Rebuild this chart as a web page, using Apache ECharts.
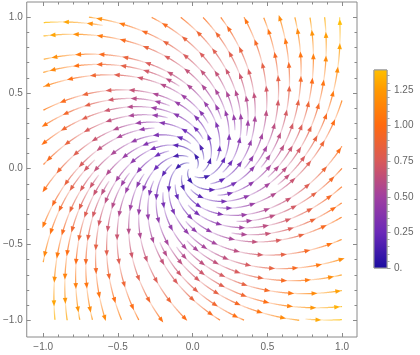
<!DOCTYPE html>
<html><head><meta charset="utf-8">
<script src="https://cdn.jsdelivr.net/npm/echarts@6/dist/echarts.min.js"></script>
<style>html,body{margin:0;padding:0;background:#fff}#c{width:420px;height:355px}</style>
</head><body><div id="c"></div>
<script>
// ---- data ----
const xTicks = [-1, -0.5, 0, 0.5, 1];
const xTickLabels = ['−1.0', '−0.5', '0.0', '0.5', '1.0'];
const yTicks = [-1, -0.5, 0, 0.5, 1];
const yTickLabels = ['−1.0', '−0.5', '0.0', '0.5', '1.0'];
const minorTicks = [-0.9, -0.8, -0.7, -0.6, -0.4, -0.3, -0.2, -0.1, 0.1, 0.2, 0.3, 0.4, 0.6, 0.7, 0.8, 0.9];
const colorTicks = [0, 0.25, 0.5, 0.75, 1, 1.25];
const colorTickLabels = ['0.', '0.25', '0.50', '0.75', '1.00', '1.25'];
const colorMinorTicks = [0.05, 0.1, 0.15, 0.2, 0.3, 0.35, 0.4, 0.45, 0.55, 0.6, 0.65, 0.7, 0.8, 0.85, 0.9, 0.95, 1.05, 1.1, 1.15, 1.2, 1.3, 1.35];
// vector field v = M · (x, y)
const fieldMatrix = [[0.67, -0.74], [0.74, 0.67]];
const fieldDomain = [-1, 1];
const magnitudeRange = [0, 1.39];
const colorStopValues = [0, 0.25, 0.5, 0.75, 1.0, 1.25, 1.39];
const colorStopColors = ['#1a0ca0', '#6a28b8', '#a040a0', '#d85a5a', '#ff6a10', '#ff9a00', '#ffc000'];

// ---- helpers ----
function hexToRgb(h) { return [parseInt(h.slice(1, 3), 16), parseInt(h.slice(3, 5), 16), parseInt(h.slice(5, 7), 16)]; }
const stopRgb = colorStopColors.map(hexToRgb);
function colorAt(m, a) {
  let i = 0;
  while (i < colorStopValues.length - 2 && m > colorStopValues[i + 1]) i++;
  const t = Math.max(0, Math.min(1, (m - colorStopValues[i]) / (colorStopValues[i + 1] - colorStopValues[i])));
  const c = stopRgb[i].map((v, k) => Math.round(v + (stopRgb[i + 1][k] - v) * t));
  return 'rgba(' + c[0] + ',' + c[1] + ',' + c[2] + ',' + a + ')';
}
function field(x, y) { return [fieldMatrix[0][0] * x + fieldMatrix[0][1] * y, fieldMatrix[1][0] * x + fieldMatrix[1][1] * y]; }
function mag(x, y) { const v = field(x, y); return Math.hypot(v[0], v[1]); }
function dir(x, y) { const v = field(x, y); const m = Math.hypot(v[0], v[1]); return m < 1e-9 ? null : [v[0] / m, v[1] / m]; }

// ---- evenly spaced streamlines ----
const D0 = fieldDomain[0], D1 = fieldDomain[1];
const dsep = 0.078, dtest = 0.5 * dsep, h = 0.004, minLen = 0.06;
const cells = new Map();
function ci(v) { return Math.floor((v - D0) / dsep); }
function addPt(x, y) { const k = ci(x) * 1000 + ci(y); if (!cells.has(k)) cells.set(k, []); cells.get(k).push([x, y]); }
function free(x, y, d) {
  const a = ci(x), b = ci(y);
  for (let i = a - 1; i <= a + 1; i++) for (let j = b - 1; j <= b + 1; j++) {
    const arr = cells.get(i * 1000 + j); if (!arr) continue;
    for (const p of arr) if ((p[0] - x) ** 2 + (p[1] - y) ** 2 < d * d) return false;
  }
  return true;
}
function inside(x, y) { return x >= D0 && x <= D1 && y >= D0 && y <= D1; }
function integrate(x0, y0, s) {
  const pts = []; let x = x0, y = y0;
  for (let n = 0; n < 3000; n++) {
    const d1 = dir(x, y); if (!d1) break;
    const d2 = dir(x + s * h / 2 * d1[0], y + s * h / 2 * d1[1]); if (!d2) break;
    const nx = x + s * h * d2[0], ny = y + s * h * d2[1];
    if (!inside(nx, ny) || Math.hypot(nx, ny) < 0.025 || !free(nx, ny, dtest)) break;
    pts.push([nx, ny]); x = nx; y = ny;
  }
  return pts;
}
function newLine(x, y) {
  if (!inside(x, y) || !free(x, y, dsep) || Math.hypot(x, y) < 0.05) return null;
  const f = integrate(x, y, 1), b = integrate(x, y, -1);
  const pts = b.reverse().concat([[x, y]], f);
  if (pts.length * h < minLen) return null;
  pts.forEach(p => addPt(p[0], p[1]));
  return pts;
}
const lines = [];
function grow(seedLine) {
  const queue = [seedLine];
  while (queue.length) {
    const L = queue.shift();
    for (let i = 0; i < L.length; i += 4) {
      const d = dir(L[i][0], L[i][1]); if (!d) continue;
      for (const s of [1, -1]) {
        const nl = newLine(L[i][0] - s * dsep * d[1], L[i][1] + s * dsep * d[0]);
        if (nl) { lines.push(nl); queue.push(nl); }
      }
    }
  }
}
for (let gx = 0; gx <= 20; gx++) for (let gy = 0; gy <= 20; gy++) {
  const x = 0.55 + gx * 0.1, y = 0.3 + gy * 0.1;
  const xx = ((x + 1) % 2) - 1, yy = ((y + 1) % 2) - 1;
  const l = newLine(xx, yy);
  if (l) { lines.push(l); grow(l); }
}

// ---- split streamlines into arrow pieces ----
const spacing = 0.158, gap = 0.012;
const pieces = [];
for (const L of lines) {
  let acc = 0; let cur = [L[0]]; let nextArrow = spacing * 0.55; let skipUntil = -1;
  for (let i = 1; i < L.length; i++) {
    acc += Math.hypot(L[i][0] - L[i - 1][0], L[i][1] - L[i - 1][1]);
    if (acc < skipUntil) continue;
    cur.push(L[i]);
    if (acc >= nextArrow) {
      if (cur.length > 1) pieces.push({ pts: cur, arrow: true });
      cur = []; skipUntil = acc + gap; nextArrow += spacing;
    }
  }
  if (cur.length > 3) pieces.push({ pts: cur, arrow: false });
}
const pieceData = pieces.map((p, i) => [p.pts[p.pts.length - 1][0], p.pts[p.pts.length - 1][1], i]);

// ---- chart ----
const chart = echarts.init(document.getElementById('c'), null, { renderer: 'canvas' });
const frameColor = '#8a8a8a', labelColor = '#666';
const font = { fontFamily: 'Liberation Sans', fontSize: 10, color: labelColor };
function lab(ticks, labels) { return v => { const i = ticks.findIndex(t => Math.abs(t - v) < 1e-6); return i >= 0 ? labels[i] : ''; }; }
function frameAxis(kind, pos, major, withLabels, ticks, labels) {
  return {
    type: 'value', gridIndex: 0, position: pos,
    min: -1.11, max: 1.10,
    axisLine: { show: false, onZero: false }, splitLine: { show: false },
    axisTick: { show: true, inside: true, length: major ? 4 : 2.5, customValues: major ? ticks : minorTicks, lineStyle: { color: frameColor, width: 1 } },
    axisLabel: withLabels ? Object.assign({ show: true, customValues: ticks, formatter: lab(ticks, labels), margin: kind === 'x' ? 5 : 4 }, font) : { show: false }
  };
}
const option = {
  animation: false,
  backgroundColor: '#fff',
  grid: [
    { left: 23, top: 2, width: 334, height: 335, show: true, borderColor: frameColor, borderWidth: 1, backgroundColor: 'transparent' },
    { left: 374, top: 70, width: 13, height: 198, show: true, borderColor: '#999', borderWidth: 1, backgroundColor: 'transparent' }
  ],
  xAxis: [
    frameAxis('x', 'bottom', true, true, xTicks, xTickLabels),
    frameAxis('x', 'bottom', false, false, xTicks, xTickLabels),
    frameAxis('x', 'top', true, false, xTicks, xTickLabels),
    frameAxis('x', 'top', false, false, xTicks, xTickLabels),
    { type: 'value', gridIndex: 1, min: 0, max: 1, show: false }
  ],
  yAxis: [
    frameAxis('y', 'left', true, true, yTicks, yTickLabels),
    frameAxis('y', 'left', false, false, yTicks, yTickLabels),
    frameAxis('y', 'right', true, false, yTicks, yTickLabels),
    frameAxis('y', 'right', false, false, yTicks, yTickLabels),
    {
      type: 'value', gridIndex: 1, position: 'right', min: magnitudeRange[0], max: magnitudeRange[1],
      axisLine: { show: false, onZero: false }, splitLine: { show: false },
      axisTick: { show: true, inside: false, length: 3.5, customValues: colorTicks, lineStyle: { color: '#999' } },
      axisLabel: Object.assign({ show: true, customValues: colorTicks, formatter: lab(colorTicks, colorTickLabels), margin: 7 }, font)
    },
    {
      type: 'value', gridIndex: 1, position: 'right', min: magnitudeRange[0], max: magnitudeRange[1],
      axisLine: { show: false, onZero: false }, splitLine: { show: false },
      axisTick: { show: true, inside: false, length: 2.5, customValues: colorMinorTicks, lineStyle: { color: '#aaa' } },
      axisLabel: { show: false }
    }
  ],
  series: [
    {
      type: 'custom', xAxisIndex: 0, yAxisIndex: 0, clip: false, silent: true,
      data: pieceData,
      renderItem: function (params, api) {
        const p = pieces[api.value(2)];
        const px = p.pts.map(q => api.coord(q));
        const a = px[0], b = px[px.length - 1];
        const s0 = p.pts[0], s1 = p.pts[p.pts.length - 1];
        const m0 = mag(s0[0], s0[1]), m1 = mag(s1[0], s1[1]);
        const grad = new echarts.graphic.LinearGradient(a[0], a[1], b[0], b[1], [
          { offset: 0, color: colorAt(m0, 0.2) }, { offset: 1, color: colorAt(m1, 0.85) }], true);
        const children = [{ type: 'polyline', shape: { points: px }, style: { stroke: grad, fill: null, lineWidth: 1.25 } }];
        if (p.arrow) {
          const d = dir(s1[0], s1[1]);
          const q = api.coord([s1[0] + d[0] * 0.01, s1[1] + d[1] * 0.01]);
          let ux = q[0] - b[0], uy = q[1] - b[1]; const n = Math.hypot(ux, uy) || 1; ux /= n; uy /= n;
          const tip = [b[0] + ux * 3, b[1] + uy * 3], base = [b[0] - ux * 3, b[1] - uy * 3];
          children.push({ type: 'polygon', shape: { points: [tip, [base[0] - uy * 2.3, base[1] + ux * 2.3], [base[0] + uy * 2.3, base[1] - ux * 2.3]] }, style: { fill: colorAt(m1, 0.95) } });
        }
        return { type: 'group', children: children };
      }
    },
    {
      type: 'custom', xAxisIndex: 4, yAxisIndex: 4, clip: false, silent: true,
      data: [[0, 0]],
      renderItem: function (params, api) {
        const p0 = api.coord([0, magnitudeRange[0]]), p1 = api.coord([1, magnitudeRange[1]]);
        const stops = colorStopValues.map((v, i) => ({ offset: (v - magnitudeRange[0]) / (magnitudeRange[1] - magnitudeRange[0]), color: colorStopColors[i] }));
        return { type: 'rect', shape: { x: p0[0], y: p1[1], width: p1[0] - p0[0], height: p0[1] - p1[1] },
          style: { fill: new echarts.graphic.LinearGradient(0, 1, 0, 0, stops), stroke: '#999', lineWidth: 1 } };
      }
    }
  ]
};
chart.setOption(option);
</script></body></html>
